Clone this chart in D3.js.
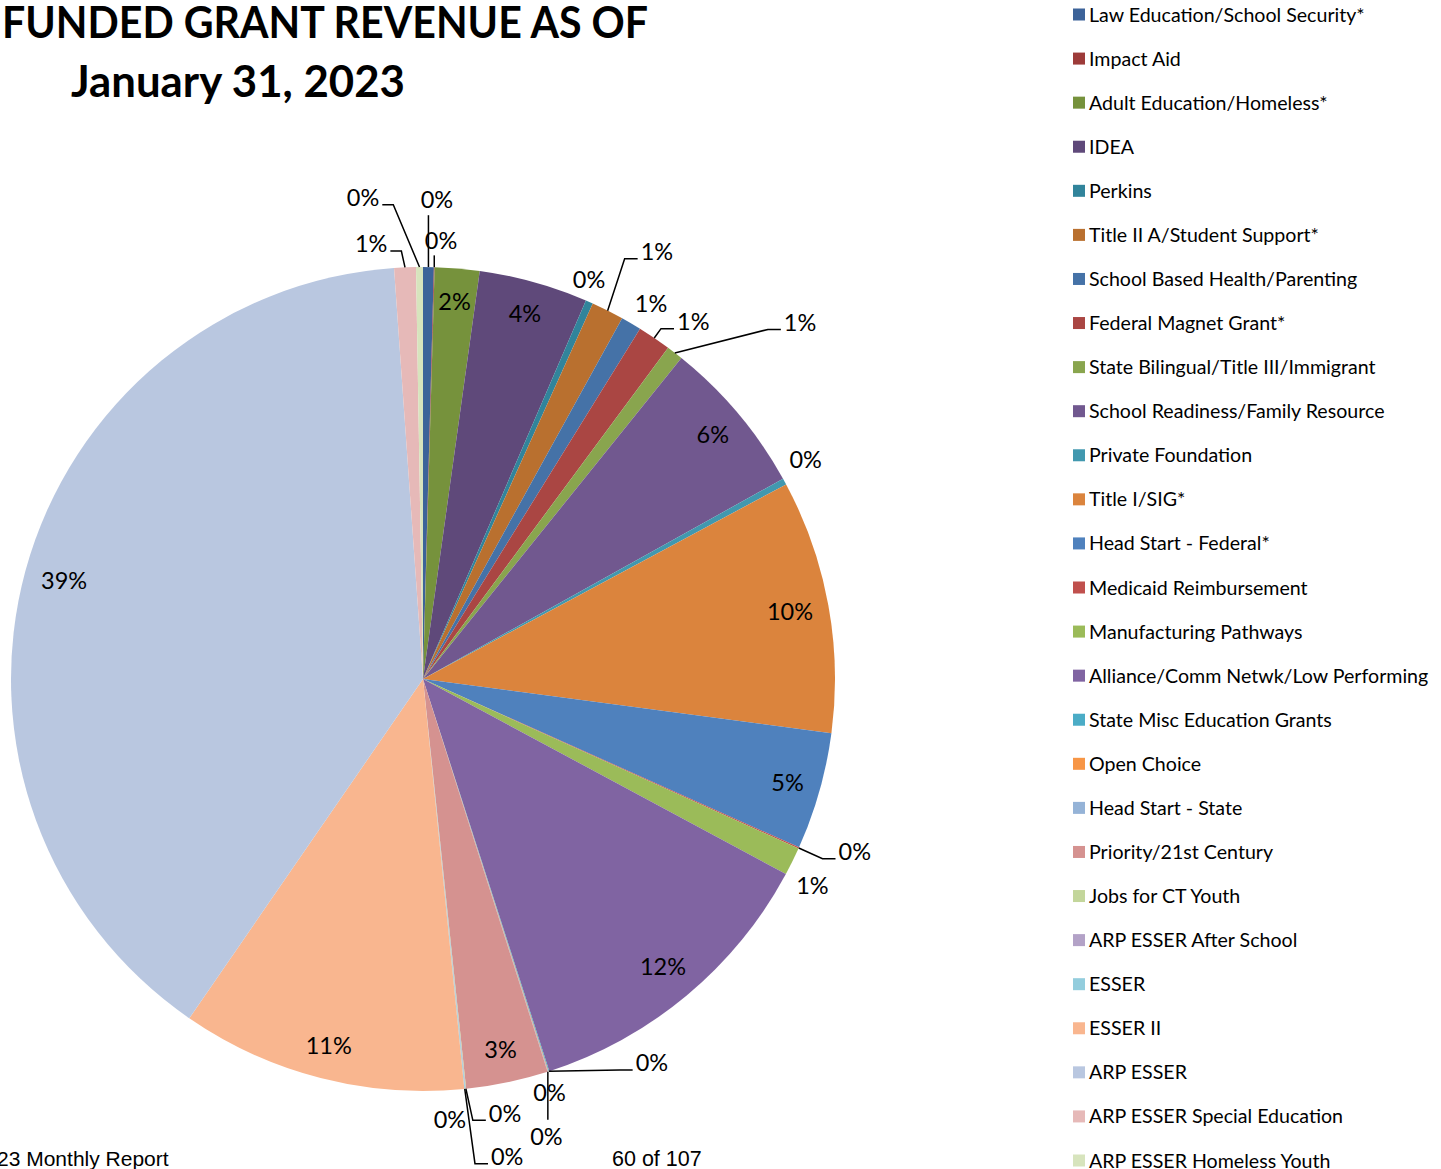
<!DOCTYPE html>
<html>
<head>
<meta charset="utf-8">
<script src="https://cdn.jsdelivr.net/npm/d3@7"></script>
<style>
  html, body { margin: 0; padding: 0; background: #fff; }
  svg { display: block; }
</style>
</head>
<body>
<div id="chart"></div>
<script>
/* Funded grant revenue pie, Jan 31 2023 */
const grants = [
  "Law Education/School Security*", "Impact Aid", "Adult Education/Homeless*", "IDEA", "Perkins",
  "Title II A/Student Support*", "School Based Health/Parenting", "Federal Magnet Grant*",
  "State Bilingual/Title III/Immigrant", "School Readiness/Family Resource", "Private Foundation",
  "Title I/SIG*", "Head Start - Federal*", "Medicaid Reimbursement", "Manufacturing Pathways",
  "Alliance/Comm Netwk/Low Performing", "State Misc Education Grants", "Open Choice",
  "Head Start - State", "Priority/21st Century", "Jobs for CT Youth", "ARP ESSER After School",
  "ESSER", "ESSER II", "ARP ESSER", "ARP ESSER Special Education", "ARP ESSER Homeless Youth"
];
// share of total revenue, percent
const shares = [
  0.42, 0.03, 1.75, 4.27, 0.29,
  1.27, 0.80, 1.31,
  0.65, 6.13, 0.25,
  9.93, 4.60, 0.05, 1.10,
  12.19, 0.03, 0.02,
  0.02, 3.22, 0.02, 0.02,
  0.03, 11.20, 39.28, 0.85, 0.27
];
const colors = [
  "#3C6399", "#9D3B39", "#76923C", "#5F497A", "#31849B",
  "#B9702F", "#4572A7", "#AA4643",
  "#89A54E", "#71588F", "#4198AF",
  "#DB843D", "#4F81BD", "#C0504D", "#9BBB59",
  "#8064A2", "#4BACC6", "#F79646",
  "#95B3D7", "#D59290", "#C3D69B", "#B3A2C7",
  "#93CDDD", "#F9B68F", "#B9C7E0", "#E6B9B8", "#D7E4BD"
];
const titleLines = ["FUNDED GRANT REVENUE AS OF", "January 31, 2023"];
const footers = ["23 Monthly Report", "60 of 107"];

// label placement: null = inside at slice middle; else polar spot (deg, px) and leader side
const labelPlace = [
  { a: 1.67, r: 479, lead: "B" }, { a: 2.35, r: 439, lead: "B" }, null, null, { a: 22.6, r: 432 },
  { a: 28.7, r: 487, lead: "L" }, { a: 31.3, r: 439 }, { a: 37.1, r: 448, lead: "L" },
  { a: 46.6, r: 519, lead: "L" }, null, { a: 60.2, r: 441 },
  { r: 373 }, null, { a: 111.8, r: 465, lead: "L" }, { a: 118.0, r: 441 },
  { r: 375 }, { a: 149.2, r: 447, lead: "L" }, { a: 163.0, r: 433 },
  { a: 164.9, r: 474, lead: "T" }, null, { a: 169.3, r: 442, lead: "L" }, { a: 176.5, r: 442 },
  { a: 170.0, r: 485, lead: "L" }, null, { r: 372 }, { a: 353.2, r: 438, lead: "R" }, { a: 352.9, r: 485, lead: "R" }
];

const W = 1441, H = 1169;
const cx = 423, cy = 679, R = 412, inR = 379;
const font = "Lato, 'Open Sans', sans-serif";

const svg = d3.select("#chart").append("svg").attr("width", W).attr("height", H)
  .attr("viewBox", `0 0 ${W} ${H}`);

// title
const tLen = [646, 334], tX = [2, 71], tY = [38, 97];
titleLines.forEach((t, i) => {
  svg.append("text").attr("x", tX[i]).attr("y", tY[i]).text(t)
    .attr("font-family", font).attr("font-weight", 700).attr("font-size", 43)
    .attr("textLength", tLen[i]).attr("lengthAdjust", "spacingAndGlyphs").attr("fill", "#000");
});

// pie
const pie = d3.pie().sort(null).value(d => d)(shares);
const arc = d3.arc().innerRadius(0).outerRadius(R);
const polar = (ang, r) => [cx + r * Math.sin(ang), cy - r * Math.cos(ang)];

const g = svg.append("g").attr("transform", `translate(${cx},${cy})`);
g.selectAll("path").data(pie).join("path")
  .attr("d", arc).attr("fill", (d, i) => colors[i]);

// data labels + leaders
const lab = svg.append("g").attr("font-family", font).attr("font-size", 23.5).attr("fill", "#000");
pie.forEach((d, i) => {
  const mid = (d.startAngle + d.endAngle) / 2, p = labelPlace[i];
  const pos = p && p.a != null ? polar(p.a * Math.PI / 180, p.r) : polar(mid, p ? p.r : inR);
  const txt = lab.append("text").attr("x", pos[0]).attr("y", pos[1]).attr("dy", "0.35em")
    .attr("text-anchor", "middle").text(Math.round(shares[i]) + "%");
  if (!p || !p.lead) return;
  const w = txt.node().getComputedTextLength();
  const a0 = polar(mid, R);
  let pts;
  if (p.lead === "B") pts = [a0, [a0[0], pos[1] + 15]];
  else if (p.lead === "T") pts = [a0, [a0[0], pos[1] - 17]];
  else if (p.lead === "L") {
    const e = [pos[0] - w / 2 - 3, pos[1] + 7];
    pts = [a0, [e[0] - 13, e[1]], e];
  } else {
    const e = [pos[0] + w / 2 + 3, pos[1] + 7];
    pts = [a0, [e[0] + 11, e[1]], e];
  }
  svg.append("path").attr("d", d3.line()(pts))
    .attr("fill", "none").attr("stroke", "#000").attr("stroke-width", 1.5);
});

// legend
const ly = d3.scalePoint().domain(grants).range([14.5, 1160.5]);
const leg = svg.append("g").attr("font-family", font).attr("font-size", 19.6).attr("fill", "#000");
grants.forEach((n, i) => {
  leg.append("rect").attr("x", 1073).attr("y", ly(n) - 6).attr("width", 12).attr("height", 12)
    .attr("fill", colors[i]);
  leg.append("text").attr("x", 1089).attr("y", ly(n) + 7).text(n);
});

// footer
const ff = "'Liberation Sans', Arial, sans-serif";
svg.append("text").attr("x", -3).attr("y", 1166).text(footers[0])
  .attr("font-family", ff).attr("font-size", 21).attr("fill", "#000");
svg.append("text").attr("x", 612).attr("y", 1166).text(footers[1])
  .attr("font-family", ff).attr("font-size", 21.5).attr("fill", "#000");
</script>
</body>
</html>
